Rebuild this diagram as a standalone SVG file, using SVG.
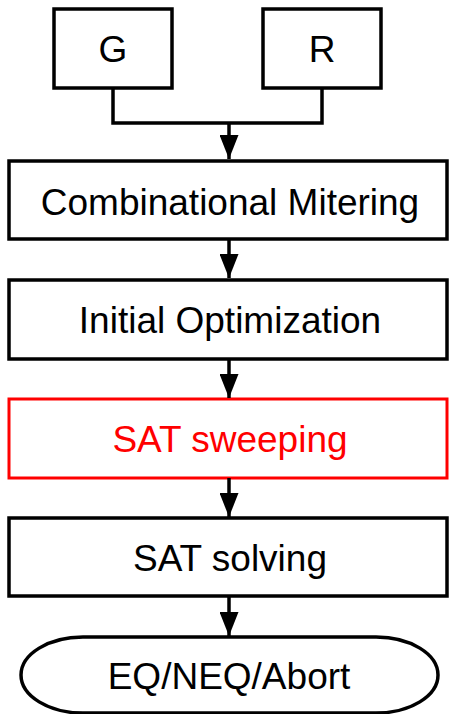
<svg xmlns="http://www.w3.org/2000/svg" width="450" height="714" viewBox="0 0 450 714">
<defs>
<style>
.box{fill:#fff;stroke:#000;stroke-width:3.5}
.red{fill:#fff;stroke:#ff0000;stroke-width:3}
.t{font-family:"Liberation Sans",Arial,sans-serif;font-size:37px;fill:#000;text-anchor:middle}
.tr{fill:#ff0000}
.ln{fill:none;stroke:#000;stroke-width:3.5}
</style>
<marker id="ah" markerUnits="userSpaceOnUse" markerWidth="24" markerHeight="19" refX="24" refY="9.5" orient="auto" viewBox="0 0 24 19">
<polygon points="0,0 24,9.5 0,19" fill="#000"/>
</marker>
</defs>
<g id="G"><rect class="box" x="54" y="9" width="118" height="79"/><text class="t" x="113" y="62">G</text></g>
<g id="R"><rect class="box" x="263" y="9" width="118" height="79"/><text class="t" x="322" y="62">R</text></g>
<g id="mitering"><rect class="box" x="9" y="161" width="438" height="78"/><text class="t" x="230" y="215">Combinational Mitering</text></g>
<g id="initopt"><rect class="box" x="9" y="280" width="438" height="79"/><text class="t" x="230" y="333">Initial Optimization</text></g>
<g id="sweeping"><rect class="red" x="9" y="399" width="438" height="79"/><text class="t tr" x="230" y="452">SAT sweeping</text></g>
<g id="solving"><rect class="box" x="9" y="518" width="438" height="78"/><text class="t" x="230" y="571">SAT solving</text></g>
<g id="result"><rect class="box" x="21" y="637" width="417" height="76" rx="62" ry="38"/><text class="t" x="229" y="689">EQ/NEQ/Abort</text></g>
<g id="connectors">
<polyline class="ln" points="113,88 113,123 322,123 322,88"/>
<line class="ln" x1="229" y1="123" x2="229" y2="159" marker-end="url(#ah)"/>
<line class="ln" x1="229" y1="239" x2="229" y2="278" marker-end="url(#ah)"/>
<line class="ln" x1="229" y1="359" x2="229" y2="398" marker-end="url(#ah)"/>
<line class="ln" x1="229" y1="478" x2="229" y2="517" marker-end="url(#ah)"/>
<line class="ln" x1="229" y1="596" x2="229" y2="636" marker-end="url(#ah)"/>
</g>
</svg>
